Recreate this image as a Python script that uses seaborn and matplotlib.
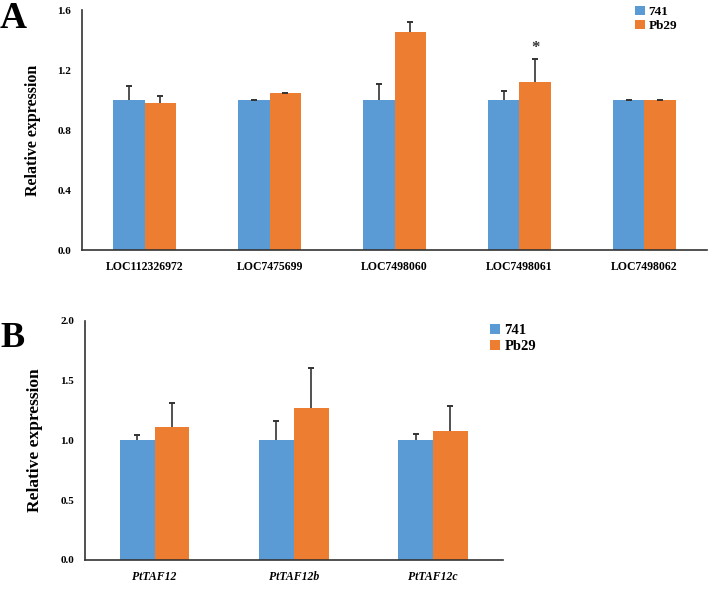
import numpy as np
import pandas as pd
import seaborn as sns
import matplotlib.pyplot as plt
from matplotlib.patches import Patch
from matplotlib.ticker import MultipleLocator, FixedLocator

# panel A data
genes_a = ['LOC112326972', 'LOC7475699', 'LOC7498060', 'LOC7498061', 'LOC7498062']
mean_741_a = [1.0, 1.0, 1.0, 1.0, 1.0]
err_741_a = [0.093, 0.003, 0.107, 0.058, 0.003]
mean_pb29_a = [0.978, 1.045, 1.453, 1.12, 1.0]
err_pb29_a = [0.052, 0.004, 0.067, 0.151, 0.003]

# panel B data
genes_b = ['PtTAF12', 'PtTAF12b', 'PtTAF12c']
mean_741_b = [1.0, 1.0, 1.0]
err_741_b = [0.04, 0.16, 0.05]
mean_pb29_b = [1.11, 1.27, 1.075]
err_pb29_b = [0.20, 0.33, 0.215]

lines = ['741', 'Pb29']
colors = ['#5B9BD5', '#ED7D31']

sns.set_style('white')
plt.rcParams['font.family'] = ['Liberation Serif', 'DejaVu Serif']
plt.rcParams['font.weight'] = 'bold'
plt.rcParams['text.color'] = 'black'
plt.rcParams['axes.labelcolor'] = 'black'
plt.rcParams['xtick.labelcolor'] = 'black'
plt.rcParams['ytick.labelcolor'] = 'black'


def make_frame(genes, m1, m2):
    return pd.DataFrame({
        'gene': genes * 2,
        'line': [lines[0]] * len(genes) + [lines[1]] * len(genes),
        'value': m1 + m2,
    })


def draw_panel(ax, genes, m1, e1, m2, e2, ylim, major, minor, ylab_size, italic):
    df = make_frame(genes, m1, m2)
    sns.barplot(data=df, x='gene', y='value', hue='line', hue_order=lines,
                palette=colors, saturation=1, width=0.5, errorbar=None,
                linewidth=0, ax=ax, legend=False)
    tops = []
    for cont, errs in zip(ax.containers, [e1, e2]):
        xs = [p.get_x() + p.get_width() / 2 for p in cont.patches]
        hs = [p.get_height() for p in cont.patches]
        top = [h + e for h, e in zip(hs, errs)]
        # upward-only whisker, cap drawn at the top end only
        ax.errorbar(xs, hs, yerr=[np.zeros(len(errs)), errs], fmt='none',
                    ecolor='#333333', elinewidth=1.2, capsize=0)
        ax.errorbar(xs, top, yerr=0, fmt='none', ecolor='#333333',
                    elinewidth=1.2, capsize=2.5, capthick=1.2)
        tops.append(list(zip(xs, top)))
    n = len(genes)
    ax.set_xlim(-0.5, n - 0.5)
    ax.set_ylim(*ylim)
    ax.yaxis.set_major_locator(MultipleLocator(major))
    if minor:
        ax.yaxis.set_minor_locator(MultipleLocator(minor))
    ax.xaxis.set_minor_locator(FixedLocator(np.arange(0.5, n, 1.0)))
    ax.tick_params(axis='x', which='major', length=0, pad=8)
    ax.tick_params(axis='x', which='minor', length=4, width=1, direction='out', color='#333333')
    ax.tick_params(axis='y', which='both', length=4, width=1, direction='in', color='#333333', pad=8)
    for lab in ax.get_xticklabels():
        lab.set_fontweight('bold')
        lab.set_fontsize(8.5)
        if italic:
            lab.set_fontstyle('italic')
    for lab in ax.get_yticklabels():
        lab.set_fontweight('bold')
        lab.set_fontsize(8)
    ax.set_xlabel('')
    ax.set_ylabel('Relative expression', fontsize=ylab_size, fontweight='bold', labelpad=12)
    sns.despine(ax=ax)
    for s in ['left', 'bottom']:
        ax.spines[s].set_color('#333333')
        ax.spines[s].set_linewidth(1.2)
    return tops


fig = plt.figure(figsize=(7.09, 5.97), dpi=100)
ax_a = fig.add_axes([0.116, 0.581, 0.881, 0.402])
ax_b = fig.add_axes([0.120, 0.062, 0.589, 0.401])

tops_a = draw_panel(ax_a, genes_a, mean_741_a, err_741_a, mean_pb29_a, err_pb29_a,
                    (0, 1.6), 0.4, 0.2, 11.5, False)
tops_b = draw_panel(ax_b, genes_b, mean_741_b, err_741_b, mean_pb29_b, err_pb29_b,
                    (0, 2.0), 0.5, None, 12.5, True)

# significance mark on LOC7498061 Pb29
sx, sy = tops_a[1][3]
ax_a.text(sx, sy + 0.02, '*', ha='center', va='bottom', fontsize=12, fontweight='bold', color='#333333')

handles = [Patch(facecolor=c, edgecolor='none', label=l) for c, l in zip(colors, lines)]
ax_a.legend(handles=handles, loc='upper left', bbox_to_anchor=(0.896, 0.99),
            bbox_transform=fig.transFigure, frameon=False, fontsize=9.5,
            handlelength=0.7, handleheight=0.7, handletextpad=0.3,
            labelspacing=0.15, borderaxespad=0, borderpad=0)
ax_b.legend(handles=handles, loc='upper left', bbox_to_anchor=(0.691, 0.457),
            bbox_transform=fig.transFigure, frameon=False, fontsize=10.5,
            handlelength=0.7, handleheight=0.7, handletextpad=0.3,
            labelspacing=0.15, borderaxespad=0, borderpad=0)

fig.text(0.0, 0.998, 'A', fontsize=27, fontweight='bold', va='top', ha='left')
fig.text(0.0, 0.46, 'B', fontsize=26, fontweight='bold', va='top', ha='left')

fig.savefig('out.png', dpi=100)
